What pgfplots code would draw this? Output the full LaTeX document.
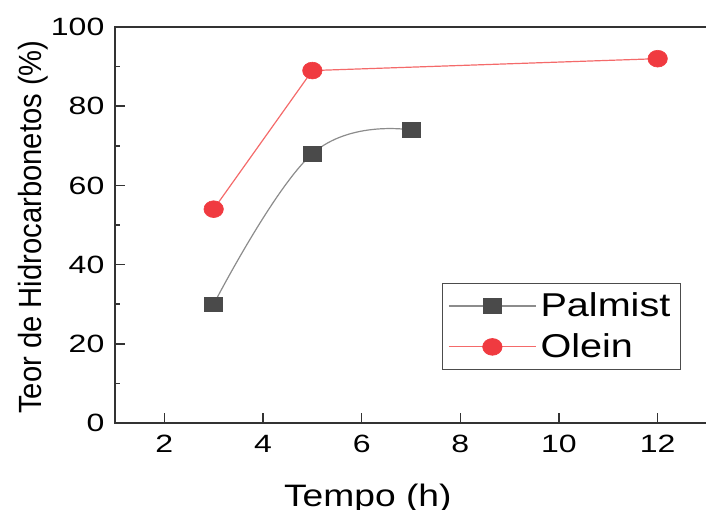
\documentclass[border=0pt]{standalone}
\usepackage{fontspec}
\setmainfont{Liberation Sans}[FakeStretch=1.2]
\newfontfamily\tickfont{Liberation Sans}[FakeStretch=1.28]
\newfontfamily\plainfont{Liberation Sans}
\usepackage{graphicx}
\usepackage{pgfplots}
\pgfplotsset{compat=1.18}
\definecolor{palmgray}{HTML}{4A4A4A}
\definecolor{palmline}{HTML}{8C8C8C}
\definecolor{oleinred}{HTML}{F03A40}
\definecolor{oleinline}{HTML}{F46A6A}
\begin{document}
\begin{tikzpicture}
\useasboundingbox (-57.5pt,-43pt) rectangle (295.5pt,211.5pt);
\clip (-57.5pt,-43pt) rectangle (295.5pt,211.5pt);
\begin{axis}[
  scale only axis,
  width=296pt, height=198pt,
  at={(0,0)}, anchor=south west,
  xmin=1, xmax=13, ymin=0, ymax=100,
  xtick={2,4,6,8,10,12},
  ytick={0,20,40,60,80,100},
  minor ytick={10,30,50,70,90},
  xtick pos=bottom, ytick pos=left,
  tick align=inside,
  major tick length=5pt, minor tick length=2.5pt,
  axis line style={black!80, line width=0.75pt},
  tick style={black!80, line width=0.75pt},
  /pgf/number format/assume math mode=true,
  tick label style={font=\tickfont\fontsize{12.5}{14}\selectfont},
  xticklabel style={yshift=-2.6pt},
  yticklabel style={xshift=-1.8pt},
  xlabel={Tempo (h)},
  xlabel style={font=\fontsize{15.5}{18}\selectfont, at={(axis description cs:0.427,-0.21)}, anchor=base},
  ylabel={\scalebox{1}[1.1]{Teor de Hidrocarbonetos (\%)}},
  ylabel style={font=\plainfont\fontsize{14.6}{17}\selectfont, at={(axis description cs:-0.138,0.495)}, anchor=center},
  legend style={at={(0.956,0.134)}, anchor=south east, draw=black!70, line width=0.6pt,
    font=\fontsize{16.5}{19}\selectfont, inner xsep=3pt, inner ysep=2.5pt, row sep=3pt},
  legend cell align=left,
  legend image code/.code={\draw[mark repeat=2,mark phase=2] plot coordinates {(0cm,0cm) (0.765cm,0cm) (1.53cm,0cm)};},
]
\addplot[palmline, line width=0.6pt, smooth, tension=0.7,
  mark=square*, mark size=3.7pt, mark options={draw=palmgray, fill=palmgray, xscale=1.22, line width=0.3pt}]
  coordinates {(3,30) (5,68) (7,74)};
\addlegendentry{Palmist}
\addplot[oleinline, line width=0.6pt,
  mark=*, mark size=4.2pt, mark options={draw=oleinred, fill=oleinred, xscale=1.16, line width=0.3pt}]
  coordinates {(3,54) (5,89) (12,92)};
\addlegendentry{Olein}
\end{axis}
\end{tikzpicture}
\end{document}
